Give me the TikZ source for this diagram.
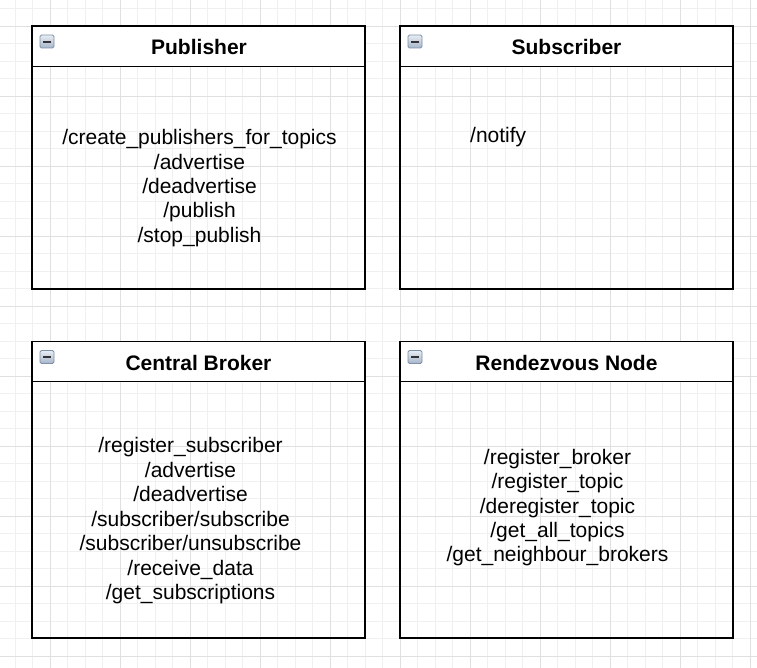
\documentclass[tikz,border=0pt]{standalone}
\usepackage{fontspec}
\setmainfont{Liberation Sans}
\definecolor{gridminor}{HTML}{F0F0F0}
\definecolor{gridmajor}{HTML}{E0E0E0}
\definecolor{iconborder}{HTML}{7F90A8}
\definecolor{icontop}{HTML}{E8EDF4}
\definecolor{iconbot}{HTML}{A6B5CA}
\begin{document}
\begin{tikzpicture}[x=1pt,y=-1pt]
\tikzset{
  minorline/.style={draw=gridminor, line width=0.9pt},
  majorline/.style={draw=gridmajor, line width=0.9pt},
  lane/.style={draw=black, line width=1.75pt},
  hdr/.style={draw=black, line width=1.75pt, fill=white},
  ttl/.style={font=\bfseries\fontsize{21}{25}\selectfont, anchor=base, inner sep=0pt},
  item/.style={font=\fontsize{21}{25}\selectfont, anchor=base, inner sep=0pt},
  iconbox/.style={draw=iconborder, line width=0.8pt, rounded corners=1.5pt, top color=icontop, bottom color=iconbot},
}
\useasboundingbox (0,0) rectangle (757,668);
\fill[white] (0,0) rectangle (757,668);
% grid
\foreach \k in {-1,...,42} \draw[minorline] ({15+17.5*\k},0) -- ({15+17.5*\k},668);
\foreach \k in {0,...,37} \draw[minorline] (0,{8.7+17.5*\k}) -- (757,{8.7+17.5*\k});
\foreach \m in {0,...,10} \draw[majorline] ({50+70*\m},0) -- ({50+70*\m},668);
\foreach \m in {0,...,9} \draw[majorline] (0,{26.2+70*\m}) -- (757,{26.2+70*\m});
% boxes
\draw[lane] (32,26) rectangle (365,289);
\draw[hdr] (32,26) rectangle (365,66.5);
\draw[lane] (400,26) rectangle (733,289);
\draw[hdr] (400,26) rectangle (733,66.5);
\draw[lane] (32,341.5) rectangle (365,638);
\draw[hdr] (32,341.5) rectangle (365,381.5);
\draw[lane] (400,341.5) rectangle (733,638);
\draw[hdr] (400,341.5) rectangle (733,381.5);
% icons
\foreach \bx/\by [count=\n] in {32/26, 400/26, 32/341.5, 400/341.5} {
  \draw[iconbox] ({\bx+8},{\by+9}) rectangle ({\bx+22},{\by+22});
  \fill[black!80] ({\bx+11},{\by+14.8}) rectangle ({\bx+19},{\by+16.8});
}
% titles
\node[ttl] (tpub) at (199,54.5) {Publisher};
\node[ttl] (tsub) at (566.5,54.5) {Subscriber};
\node[ttl] (tcb) at (198.5,370) {Central Broker};
\node[ttl] (trn) at (566.5,370) {Rendezvous Node};
% items
\foreach \t [count=\i] in {/create\_publishers\_for\_topics, /advertise, /deadvertise, /publish, /stop\_publish}
  \node[item] (pub\i) at (199.5,{144.8+24.4*(\i-1)}) {\t};
\node[item, anchor=base west] (sub1) at (470,143) {/notify};
\foreach \t [count=\i] in {/register\_subscriber, /advertise, /deadvertise, /subscriber/subscribe, /subscriber/unsubscribe, /receive\_data, /get\_subscriptions}
  \node[item] (cb\i) at (190.5,{452.5+24.5*(\i-1)}) {\t};
\foreach \t [count=\i] in {/register\_broker, /register\_topic, /deregister\_topic, /get\_all\_topics, /get\_neighbour\_brokers}
  \node[item] (rn\i) at (557.5,{464.5+24.3*(\i-1)}) {\t};
\end{tikzpicture}
\end{document}
